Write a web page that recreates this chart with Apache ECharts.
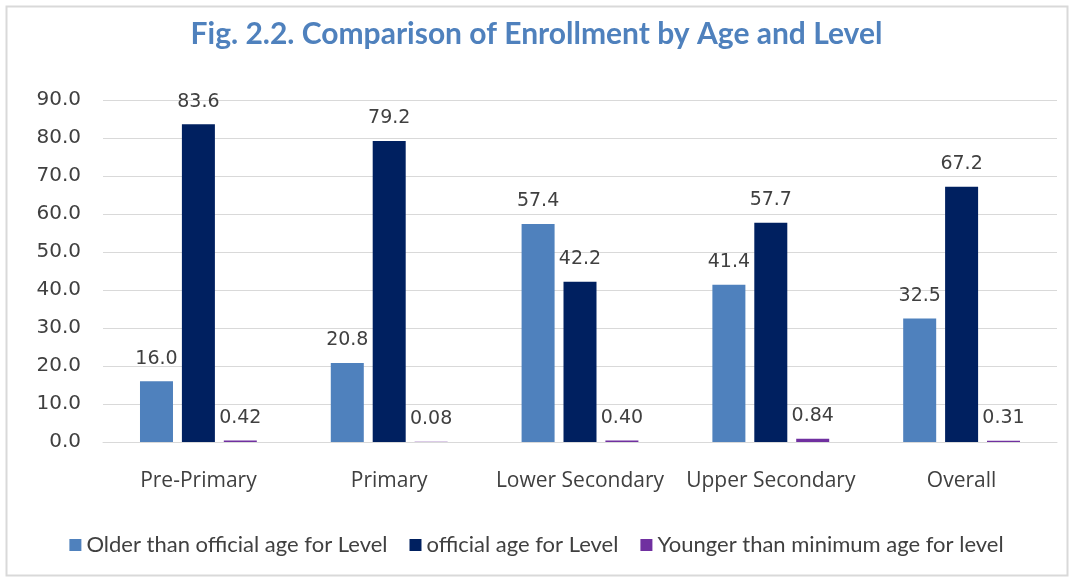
<!DOCTYPE html>
<html>
<head>
<meta charset="utf-8">
<script src="https://cdn.jsdelivr.net/npm/echarts@6/dist/echarts.min.js"></script>
<style>
  html, body { margin: 0; padding: 0; background: #fff; }
  #chart { width: 1073px; height: 581px; }
</style>
</head>
<body>
<div id="chart"></div>
<script>
// Enrollment shares by level, split by age relative to the official age band
const categories = ['Pre-Primary', 'Primary', 'Lower Secondary', 'Upper Secondary', 'Overall'];
const olderThanOfficial = [16.0, 20.8, 57.4, 41.4, 32.5];
const officialAge = [83.6, 79.2, 42.2, 57.7, 67.2];
const youngerThanMinimum = [0.42, 0.08, 0.40, 0.84, 0.31];
const seriesNames = ['Older than official age for Level', 'official age for Level', 'Younger than minimum age for level'];

const chart = echarts.init(document.getElementById('chart'), null, { renderer: 'canvas' });

const labelStyle = (digits) => ({
  show: true,
  position: 'top',
  distance: 13,
  color: '#404040',
  fontSize: 19,
  fontFamily: 'DejaVu Sans',
  formatter: (p) => p.value.toFixed(digits)
});

chart.setOption({
  backgroundColor: '#fff',
  animation: false,
  title: {
    text: 'Fig. 2.2. Comparison of Enrollment by Age and Level',
    left: 'center',
    top: 14,
    textStyle: { color: '#4F81BD', fontSize: 30, fontWeight: 'bold', fontFamily: 'Lato' }
  },
  graphic: [{
    type: 'rect',
    shape: { x: 6.5, y: 6.5, width: 1061, height: 569 },
    style: { fill: 'none', stroke: '#D9D9D9', lineWidth: 2 },
    silent: true
  }],
  legend: {
    bottom: 20,
    left: 'center',
    itemWidth: 12,
    itemHeight: 12,
    itemGap: 22,
    icon: 'rect',
    textStyle: { color: '#404040', fontSize: 22, fontFamily: 'Lato' },
    data: seriesNames
  },
  grid: { left: 103, right: 16, top: 100, bottom: 139 },
  xAxis: {
    type: 'category',
    data: categories,
    axisLine: { show: true, lineStyle: { color: '#D9D9D9', width: 1 } },
    axisTick: { show: false },
    axisLabel: { interval: 0, color: '#404040', fontSize: 21, fontFamily: 'Open Sans', margin: 29 }
  },
  yAxis: {
    type: 'value',
    min: 0,
    max: 90,
    interval: 10,
    axisLine: { show: false },
    axisTick: { show: false },
    splitLine: { lineStyle: { color: '#D9D9D9', width: 1 } },
    axisLabel: {
      color: '#404040', fontSize: 20, fontFamily: 'DejaVu Sans', margin: 22,
      formatter: (v) => v.toFixed(1)
    }
  },
  series: [
    {
      name: seriesNames[0], type: 'bar', data: olderThanOfficial,
      barWidth: 33, barGap: '27%',
      itemStyle: { color: '#4F81BD' }, label: labelStyle(1)
    },
    {
      name: seriesNames[1], type: 'bar', data: officialAge,
      barWidth: 33, barGap: '27%',
      itemStyle: { color: '#002060' }, label: labelStyle(1)
    },
    {
      name: seriesNames[2], type: 'bar', data: youngerThanMinimum,
      barWidth: 33, barGap: '27%',
      itemStyle: { color: '#7030A0' }, label: labelStyle(2)
    }
  ]
});
</script>
</body>
</html>
